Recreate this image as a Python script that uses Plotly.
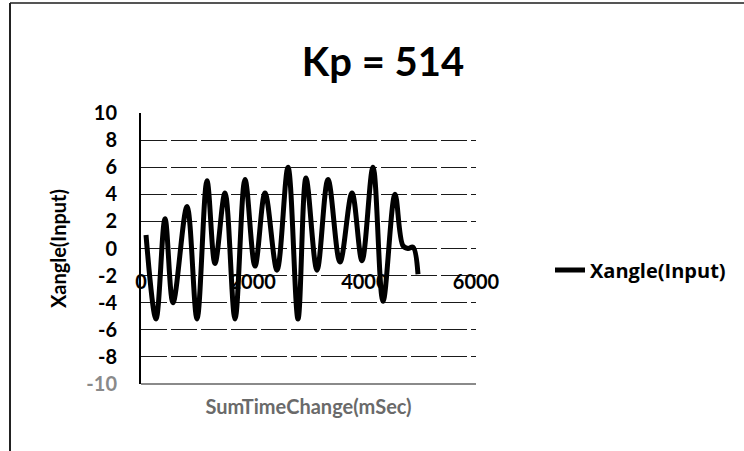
import plotly.graph_objects as go

# Data (time in ms, angle in degrees)
time_ms = [90, 269, 430, 573, 824, 1003, 1182, 1325, 1504, 1684, 1863, 2042,
           2221, 2436, 2633, 2812, 2955, 3152, 3349, 3564, 3779, 3958, 4155,
           4334, 4549, 4692, 4782, 4871, 4961]
xangle = [1.0, -5.2, 2.2, -4.0, 3.1, -5.2, 5.0, -1.1, 4.1, -5.2, 5.1, -1.3,
          4.1, -1.6, 6.0, -5.2, 5.2, -1.6, 5.1, -1.0, 4.1, -0.9, 6.0,
          -3.9, 4.0, 0.2, 0.0, 0.1, -1.9]

x_ticks = [0, 2000, 4000, 6000]
y_ticks = list(range(-10, 11, 2))

title_text = "Kp = 514"
series_name = "Xangle(Input)"
x_title = "SumTimeChange(mSec)"
y_title = "Xangle(Input)"

FONT = "Lato"

fig = go.Figure()
fig.add_trace(go.Scatter(
    x=time_ms, y=xangle, mode="lines", name="<b>" + series_name + "</b>",
    line=dict(color="black", width=5, shape="spline", smoothing=1.0),
))

# plot area in pixels: x 141..476, y 113..384
L, R, T, B = 141, 476, 113, 384
W, H = 744, 451
pw, ph = R - L, B - T

def px(x):
    return (x - L) / pw

def py(y):
    return (B - y) / ph

y_ticktext = [("<span style='color:#8a8a8a'>%d</span>" % v) if v == -10 else str(v)
              for v in y_ticks]

fig.update_layout(
    width=W, height=H,
    margin=dict(l=L, r=W - R, t=T, b=H - B, pad=0),
    paper_bgcolor="white", plot_bgcolor="white",
    font=dict(family=FONT, color="black"),
    title=dict(text="<b>" + title_text + "</b>", xref="container",
               x=383 / W, xanchor="center",
               yref="container", y=1 - 62 / H, yanchor="middle",
               font=dict(size=40, family=FONT, color="black")),
    showlegend=True,
    legend=dict(x=px(550), y=py(270), xanchor="left", yanchor="middle",
                font=dict(size=20, family="Open Sans", color="black"),
                bgcolor="rgba(0,0,0,0)", borderwidth=0),
    xaxis=dict(
        range=[0, 6000], tickvals=x_ticks, ticktext=[str(v) for v in x_ticks],
        showgrid=False, zeroline=False, showline=False, ticks="",
        anchor="free", position=py(268),
        tickfont=dict(size=20, family=FONT, color="black", weight="bold"),
        title=dict(text=x_title, standoff=107,
                   font=dict(size=20, family=FONT, color="#6a6a6a", weight="bold")),
    ),
    yaxis=dict(
        range=[-10, 10], tickvals=y_ticks, ticktext=y_ticktext,
        showgrid=True, gridcolor="#1a1a1a", gridwidth=1, griddash="26px,4px",
        zeroline=False, showline=True, linecolor="black", linewidth=2,
        ticks="", ticklabelstandoff=18,
        tickfont=dict(size=20, family=FONT, color="black", weight="bold"),
        title=dict(text=y_title, standoff=14,
                   font=dict(size=20, family=FONT, color="black", weight="bold")),
    ),
    shapes=[
        # bottom axis line (gray)
        dict(type="line", xref="paper", yref="paper", x0=0, x1=1, y0=0, y1=0,
             line=dict(color="#8a8a8a", width=2)),
        # scanned frame: top and left border
        dict(type="line", xref="paper", yref="paper", x0=px(10), x1=px(744),
             y0=py(3), y1=py(3), line=dict(color="#555555", width=2)),
        dict(type="line", xref="paper", yref="paper", x0=px(10), x1=px(10),
             y0=py(3), y1=py(451), line=dict(color="#222222", width=2)),
    ],
)

fig.write_html("out.html")
